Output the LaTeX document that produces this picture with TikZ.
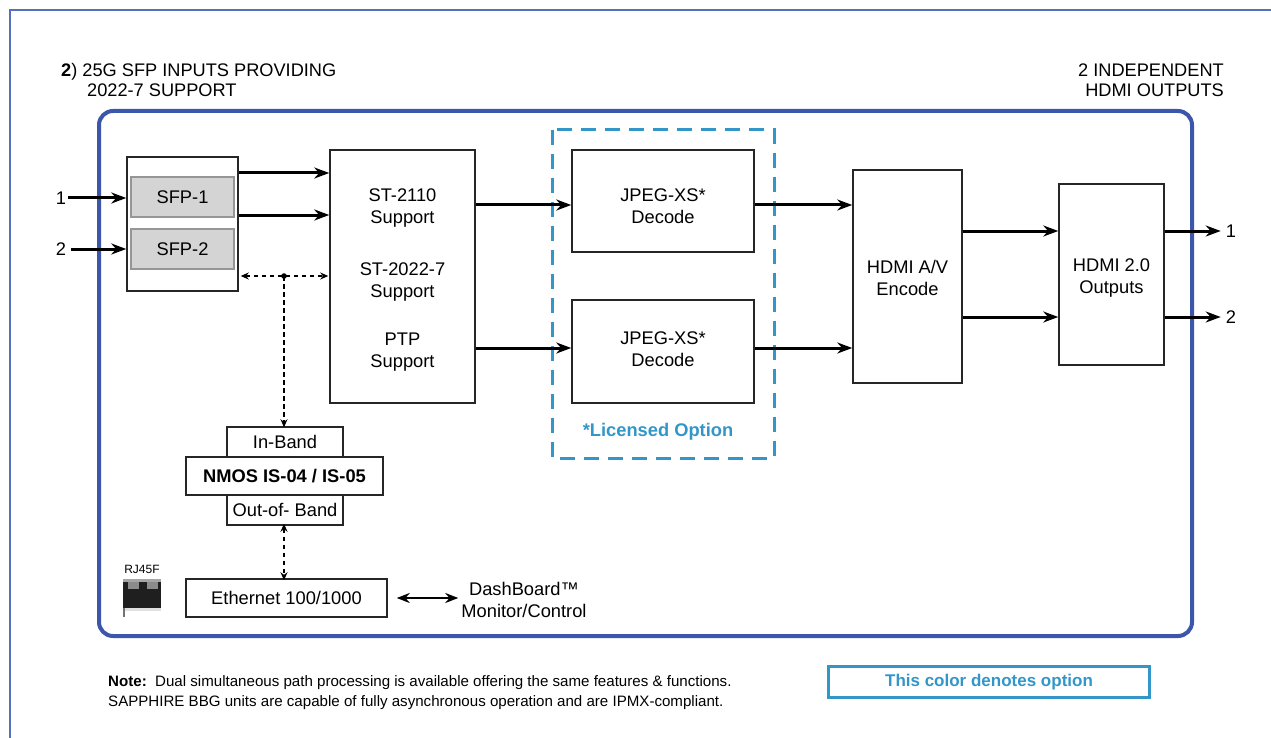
\documentclass[tikz,border=0pt]{standalone}
\usepackage{fontspec}
\setmainfont{Liberation Sans}
\usetikzlibrary{arrows.meta}
\definecolor{frameblue}{RGB}{59,86,171}
\definecolor{outerblue}{RGB}{85,112,192}
\definecolor{optblue}{RGB}{51,150,200}
\definecolor{sfpgray}{RGB}{212,212,212}
\definecolor{sfpedge}{RGB}{150,150,150}
\newcommand{\txt}{\fontsize{18.3}{22.5}\selectfont}
\newcommand{\ttltxt}{\fontsize{18.2}{20}\selectfont}
\newcommand{\smalltxt}{\fontsize{15.1}{20}\selectfont}
\tikzset{
  box/.style={draw=black!85, line width=1.5pt, fill=white, inner sep=0pt},
  sfpbox/.style={draw=sfpedge, line width=1.2pt, fill=sfpgray, inner sep=0pt, font=\txt},
  lbl/.style={inner sep=0pt, font=\txt, align=center},
  arr/.style={line width=3pt, -{Stealth[length=15pt,width=11pt]}},
  dasharr/.style={line width=1.5pt, dash pattern=on 4.5pt off 3.5pt, {Stealth[length=8pt,width=7pt]}-{Stealth[length=8pt,width=7pt]}},
  dasharrone/.style={line width=1.5pt, dash pattern=on 4.5pt off 3.5pt, -{Stealth[length=8pt,width=7pt]}},
}
\begin{document}
\begin{tikzpicture}[x=1pt,y=-1pt]
\useasboundingbox (0,0) rectangle (1271,738);
% outer frame
\draw[outerblue, line width=2pt] (1271,10) -- (10,10) -- (10,738);
% inner frame
\draw[frameblue, line width=4pt, rounded corners=14pt] (99,111) rectangle (1192,636);
% titles
\node[inner sep=0pt, font=\ttltxt, anchor=base west] (t1) at (61,77) {\textbf{2}) 25G SFP INPUTS PROVIDING};
\node[inner sep=0pt, font=\ttltxt, anchor=base west] (t2) at (87,97) {2022-7 SUPPORT};
\node[inner sep=0pt, font=\ttltxt, anchor=base east] (t3) at (1224,77) {2 INDEPENDENT};
\node[inner sep=0pt, font=\ttltxt, anchor=base east] (t4) at (1224,97) {HDMI OUTPUTS};
% option dashed box
\draw[optblue, line width=3pt, dash pattern=on 15pt off 9pt] (552,130) rectangle (774,458);
\node[lbl, text=optblue, font=\txt\bfseries] (lic) at (658,432) {*Licensed Option};
% SFP
\node[box, minimum width=111pt, minimum height=134pt] (sfpc) at (182.5,224) {};
\node[sfpbox, minimum width=103pt, minimum height=40pt] (sfp1) at (182.5,197) {SFP-1};
\node[sfpbox, minimum width=103pt, minimum height=40pt] (sfp2) at (182.5,249) {SFP-2};
% ST box
\node[box, minimum width=145pt, minimum height=253pt] (st) at (402.5,276.5) {};
\node[lbl] (st1) at (402.5,208) {ST-2110\\Support};
\node[lbl] (st2) at (402.5,282) {ST-2022-7\\Support};
\node[lbl] (st3) at (402.5,352) {PTP\\Support};
% JPEG
\node[box, minimum width=182pt, minimum height=102pt] (jx1) at (663,201) {};
\node[lbl] (jx1t) at (663,206) {JPEG-XS*\\Decode};
\node[box, minimum width=182pt, minimum height=103pt] (jx2) at (663,351.5) {};
\node[lbl] (jx2t) at (663,349) {JPEG-XS*\\Decode};
% HDMI
\node[box, minimum width=109pt, minimum height=213pt] (hav) at (907.5,276.5) {};
\node[lbl] (havt) at (907.5,278) {HDMI A/V\\Encode};
\node[box, minimum width=105pt, minimum height=181pt] (h20) at (1111.5,274.5) {};
\node[lbl] (h20t) at (1111.5,278) {HDMI 2.0\\Outputs};
% NMOS
\node[box, minimum width=116pt, minimum height=30pt, font=\txt] (inb) at (285,442) {In-Band};
\node[box, minimum width=116pt, minimum height=30pt, font=\txt] (oob) at (285,510) {Out-of- Band};
\node[box, minimum width=197pt, minimum height=38pt, font=\txt\bfseries] (nmos) at (284.5,476) {NMOS IS-04 / IS-05};
% Ethernet
\node[box, minimum width=201pt, minimum height=38pt, font=\txt] (eth) at (286.5,598) {Ethernet 100/1000};
\node[lbl] (dash) at (524,600) {DashBoard™\\Monitor/Control};
% RJ45
\node[inner sep=0pt, font=\fontsize{12}{14}\selectfont] (rjl) at (142,569) {RJ45F};
\fill[black!88] (123,581) rectangle (161,608);
\fill[black!35] (123,579) rectangle (161,582);
\fill[black!45] (128,582) rectangle (139,589);
\fill[black!45] (147,582) rectangle (158,589);
\fill[black!55] (123,608) rectangle (125,617);
\fill[black!12] (125,608) rectangle (161,611);
% inputs
\node[lbl, inner sep=2pt] (in1) at (61,198) {1};
\node[lbl, inner sep=2pt] (in2) at (61,249) {2};
\draw[arr] (in1.east) -- (sfpc.west |- in1);
\draw[arr] ([xshift=3pt]in2.east) -- (sfpc.west |- in2);
% sfp -> st
\coordinate (ya) at (0,173);
\coordinate (yb) at (0,215);
\draw[arr] (sfpc.east |- ya) -- (st.west |- ya);
\draw[arr] (sfpc.east |- yb) -- (st.west |- yb);
% dashed mgmt
\coordinate (dot) at (284,276);
\draw[dasharr] ([xshift=2pt]sfpc.east |- dot) -- ([xshift=-1pt]st.west |- dot);
\fill (dot) circle (2.8pt);
\draw[dasharrone] (dot) -- ([yshift=-1pt]inb.north -| dot);
\draw[dasharr] ([yshift=2pt]oob.south -| dot) -- ([yshift=-2pt]eth.north -| dot);
\draw[line width=2.2pt, {Stealth[length=13pt,width=10pt]}-{Stealth[length=13pt,width=10pt]}] ([xshift=9pt]eth.east) -- ([xshift=-3pt]dash.west |- eth);
% st -> jx
\coordinate (yc) at (0,205);
\coordinate (yd) at (0,348);
\draw[arr] (st.east |- yc) -- (jx1.west |- yc);
\draw[arr] (st.east |- yd) -- (jx2.west |- yd);
\draw[arr] (jx1.east |- yc) -- (hav.west |- yc);
\draw[arr] (jx2.east |- yd) -- (hav.west |- yd);
% hav -> h20
\coordinate (ye) at (0,231);
\coordinate (yf) at (0,317);
\draw[arr] (hav.east |- ye) -- (h20.west |- ye);
\draw[arr] (hav.east |- yf) -- (h20.west |- yf);
% outputs
\node[lbl, inner sep=0pt] (out1) at (1231,231) {1};
\node[lbl, inner sep=0pt] (out2) at (1231,317) {2};
\draw[arr] (h20.east |- ye) -- ([xshift=-5pt]out1.west);
\draw[arr] (h20.east |- yf) -- ([xshift=-5pt]out2.west);
% note
\node[inner sep=0pt, anchor=base west, font=\smalltxt] (n1) at (108,686) {\textbf{Note:}\ \ Dual simultaneous path processing is available offering the same features \& functions.};
\node[inner sep=0pt, anchor=base west, font=\smalltxt] (n2) at (108,706) {SAPPHIRE BBG units are capable of fully asynchronous operation and are IPMX-compliant.};
% legend
\node[draw=optblue, line width=3.5pt, minimum width=321pt, minimum height=31pt, text=optblue, font=\fontsize{17}{20}\selectfont\bfseries] (leg) at (989,682) {This color denotes option};
\end{tikzpicture}
\end{document}
